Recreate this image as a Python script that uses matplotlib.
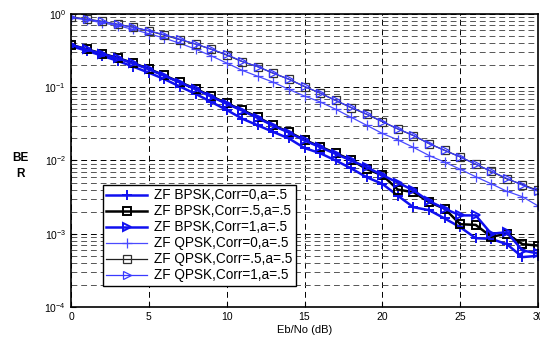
import numpy as np
import matplotlib
matplotlib.use("Agg")
import matplotlib.pyplot as plt

plt.rcParams["font.family"] = ["Liberation Sans", "DejaVu Sans"]
plt.rcParams["mathtext.fontset"] = "custom"
plt.rcParams["mathtext.rm"] = "Liberation Sans"

ebno = list(range(0, 31))

bpsk_c0 = [0.363, 0.316, 0.269, 0.229, 0.191, 0.158, 0.129, 0.102, 0.0813, 0.0631,
           0.0490, 0.0372, 0.0302, 0.0245, 0.0200, 0.0148, 0.0126, 0.0100, 0.0078, 0.0059,
           0.0048, 0.0033, 0.0023, 0.0021, 0.00162, 0.00123, 0.00087, 0.00085, 0.00072, 0.00048,
           0.00050]
bpsk_c05 = [0.380, 0.331, 0.288, 0.251, 0.214, 0.178, 0.145, 0.117, 0.0955, 0.0759,
            0.0603, 0.0490, 0.0389, 0.0302, 0.0245, 0.0191, 0.0155, 0.0126, 0.0102, 0.0076,
            0.0063, 0.0040, 0.0037, 0.0027, 0.0022, 0.00135, 0.00132, 0.00091, 0.00100, 0.00072,
            0.00069]
bpsk_c1 = [0.378, 0.328, 0.285, 0.248, 0.212, 0.176, 0.143, 0.116, 0.0940, 0.0745,
           0.0595, 0.0480, 0.0380, 0.0298, 0.0240, 0.0188, 0.0152, 0.0123, 0.0100, 0.0081,
           0.0063, 0.0050, 0.0039, 0.0028, 0.0022, 0.00178, 0.00178, 0.00100, 0.00105, 0.00059,
           0.00054]
qpsk_c0 = [0.891, 0.832, 0.759, 0.692, 0.617, 0.537, 0.468, 0.398, 0.331, 0.269,
           0.214, 0.170, 0.141, 0.117, 0.0933, 0.0759, 0.0631, 0.0501, 0.0389, 0.0302,
           0.0234, 0.0191, 0.0151, 0.0117, 0.0095, 0.0076, 0.0060, 0.0048, 0.0038, 0.0032,
           0.0024]
qpsk_c05 = [0.912, 0.851, 0.794, 0.724, 0.661, 0.589, 0.513, 0.447, 0.389, 0.331,
            0.275, 0.224, 0.191, 0.155, 0.129, 0.102, 0.0832, 0.0661, 0.0525, 0.0427,
            0.0339, 0.0269, 0.0219, 0.0170, 0.0138, 0.0112, 0.0089, 0.0071, 0.0056, 0.0047,
            0.0039]
qpsk_c1 = [0.905, 0.848, 0.790, 0.720, 0.658, 0.590, 0.520, 0.450, 0.390, 0.330,
           0.280, 0.225, 0.190, 0.156, 0.128, 0.103, 0.083, 0.066, 0.053, 0.043,
           0.034, 0.027, 0.022, 0.017, 0.0137, 0.0112, 0.0089, 0.0071, 0.0057, 0.0046,
           0.0038]

labels = ["ZF BPSK,Corr=0,a=.5", "ZF BPSK,Corr=.5,a=.5", "ZF BPSK,Corr=1,a=.5",
          "ZF QPSK,Corr=0,a=.5", "ZF QPSK,Corr=.5,a=.5", "ZF QPSK,Corr=1,a=.5"]

fig = plt.figure(figsize=(5.4, 3.39), dpi=100)
ax = fig.add_axes([0.1315, 0.0944, 0.8648, 0.8643])

ax.semilogy(ebno, bpsk_c0, color="#1010f0", lw=1.8, marker="+", ms=6.5, mew=1.4, label=labels[0])
ax.semilogy(ebno, bpsk_c05, color="black", lw=1.8, marker="s", ms=5.5, mew=1.4, mfc="none", label=labels[1])
ax.semilogy(ebno, bpsk_c1, color="#1010f0", lw=1.8, marker=">", ms=6, mew=1.4, mfc="none", label=labels[2])
ax.semilogy(ebno, qpsk_c0, color="#4a4aff", lw=0.9, marker="+", ms=6.5, mew=0.9, label=labels[3])
ax.semilogy(ebno, qpsk_c05, color="#202020", lw=0.9, marker="s", ms=5.5, mew=0.9, mfc="none", mec="#303030", label=labels[4])
ax.semilogy(ebno, qpsk_c1, color="#3a3aff", lw=0.9, marker=">", ms=6, mew=0.9, mfc="none", label=labels[5])

ax.set_xlim(0, 30)
ax.set_ylim(1e-4, 1)
ax.set_xticks([0, 5, 10, 15, 20, 25, 30])
ax.set_yticks([1e-4, 1e-3, 1e-2, 1e-1, 1])
ax.tick_params(axis="both", which="both", direction="in", labelsize=7.5)
ax.tick_params(which="minor", length=0)
ax.grid(True, which="major", color="black", ls=(0, (6, 4)), lw=0.7)
ax.grid(True, which="minor", axis="y", color="#555555", ls=(0, (6, 4)), lw=0.7)
for s in ax.spines.values():
    s.set_linewidth(1.2)

ax.set_xlabel("Eb/No (dB)", fontsize=8, labelpad=2)
fig.text(0.038, 0.51, "BE\nR", fontsize=8.5, fontweight="bold", ha="center", va="center",
         linespacing=1.5)

leg = ax.legend(loc="lower left", bbox_to_anchor=(0.0685, 0.072), fontsize=9.8, fancybox=False,
                edgecolor="black", framealpha=1, handlelength=3.0, borderpad=0.25,
                labelspacing=0.15, handletextpad=0.5, borderaxespad=0)
leg.get_frame().set_linewidth(1.0)

fig.savefig("out.png", dpi=100)
